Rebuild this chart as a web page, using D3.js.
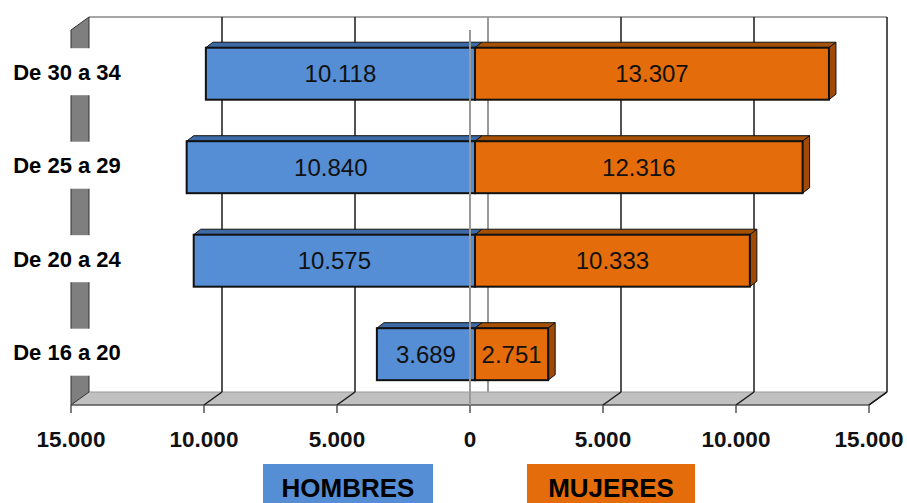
<!DOCTYPE html>
<html><head><meta charset="utf-8">
<script src="https://cdn.jsdelivr.net/npm/d3@7"></script>
<style>body{margin:0;background:#fff}svg{display:block}</style>
</head><body><svg id="c" width="907" height="503"></svg>
<script>
const categories = ["De 30 a 34", "De 25 a 29", "De 20 a 24", "De 16 a 20"];
const hombres = [10118, 10840, 10575, 3689];
const mujeres = [13307, 12316, 10333, 2751];
const tickValues = [-15000, -10000, -5000, 0, 5000, 10000, 15000];
const seriesNames = ["HOMBRES", "MUJERES"];

const fmt = v => d3.format(",")(Math.abs(v)).replace(/,/g, ".");
const svg = d3.select("#c");

// front plane
const x = d3.scaleLinear().domain([-15000, 15000]).range([71, 869]);
const floorY = 405, topY = 30;
const DX = 18, DY = -13;           // wall depth
const BX = 5, BY = -3.6;           // bars depth position
const bdx = 7, bdy = -5.5;         // bar thickness
const y = d3.scaleBand().domain(categories).range([26.4, 401.5]).paddingInner(0.444).paddingOuter(0.228);

const g = svg.append("g");
// back wall top border
g.append("line").attr("x1", x(-15000)+DX).attr("x2", x(15000)+DX).attr("y1", topY+DY).attr("y2", topY+DY)
  .attr("stroke", "#888").attr("stroke-width", 1.5);
// floor
g.append("path").attr("d", `M${x(-15000)},${floorY}L${x(15000)},${floorY}L${x(15000)+DX},${floorY+DY}L${x(-15000)+DX},${floorY+DY}Z`)
  .attr("fill", "#c0c0c0").attr("stroke", "none");
g.append("line").attr("x1", x(-15000)+DX).attr("x2", x(15000)+DX).attr("y1", floorY+DY).attr("y2", floorY+DY).attr("stroke", "#999").attr("stroke-width", 1);
g.append("line").attr("x1", x(-15000)).attr("x2", x(15000)).attr("y1", floorY).attr("y2", floorY).attr("stroke", "#555").attr("stroke-width", 1.5);
// back gridlines + floor diagonals
tickValues.filter(t => t !== 0 && t !== -15000).forEach(t => {
  g.append("line").attr("x1", x(t)+DX).attr("x2", x(t)+DX).attr("y1", topY+DY).attr("y2", floorY+DY)
    .attr("stroke", "#1a1a1a").attr("stroke-width", 1.5);
  g.append("line").attr("x1", x(t)+DX).attr("x2", x(t)).attr("y1", floorY+DY).attr("y2", floorY)
    .attr("stroke", "#1a1a1a").attr("stroke-width", 1.5);
});
// back zero line
g.append("line").attr("x1", x(0)+DX).attr("x2", x(0)+DX).attr("y1", topY+DY).attr("y2", floorY+DY)
  .attr("stroke", "#999").attr("stroke-width", 2);
// left wall
g.append("path").attr("d", `M${x(-15000)},${topY}L${x(-15000)+DX},${topY+DY}L${x(-15000)+DX},${floorY+DY}L${x(-15000)},${floorY}Z`)
  .attr("fill", "#7f7f7f").attr("stroke", "#333").attr("stroke-width", 1);

// bars
function bar(x0, x1, yt, h, front, top, side, withSide) {
  const bg = g.append("g");
  bg.append("path").attr("d", `M${x0},${yt}L${x1},${yt}L${x1+bdx},${yt+bdy}L${x0+bdx},${yt+bdy}Z`)
    .attr("fill", top).attr("stroke", "#111").attr("stroke-width", 1).attr("stroke-linejoin", "round");
  if (withSide) bg.append("path").attr("d", `M${x1},${yt}L${x1+bdx},${yt+bdy}L${x1+bdx},${yt+h+bdy}L${x1},${yt+h}Z`)
    .attr("fill", side).attr("stroke", "#111").attr("stroke-width", 1).attr("stroke-linejoin", "round");
  bg.append("rect").attr("x", x0).attr("y", yt).attr("width", x1 - x0).attr("height", h)
    .attr("fill", front).attr("stroke", "#111").attr("stroke-width", 2);
}
categories.forEach((c, i) => {
  const yt = y(c), h = y.bandwidth();
  bar(x(-hombres[i]) + BX, x(0) + BX, yt, h, "#558ed5", "#3c6aa6", "#3c6aa6", false);
  bar(x(0) + BX, x(mujeres[i]) + BX, yt, h, "#e46c0a", "#a65006", "#a04a05", true);
});
// front zero line (drawn over bars)
g.append("line").attr("x1", x(0)).attr("x2", x(0)).attr("y1", topY).attr("y2", floorY)
  .attr("stroke", "#999").attr("stroke-width", 2);

// value labels
categories.forEach((c, i) => {
  const cy = y(c) + y.bandwidth() / 2 + 8.5;
  g.append("text").attr("x", (x(-hombres[i]) + x(0)) / 2 + BX).attr("y", cy).attr("text-anchor", "middle")
    .attr("font-family", "Liberation Sans, Arial, sans-serif").attr("font-size", 24).attr("fill", "#111").text(fmt(hombres[i]));
  g.append("text").attr("x", (x(mujeres[i]) + x(0)) / 2 + BX).attr("y", cy).attr("text-anchor", "middle")
    .attr("font-family", "Liberation Sans, Arial, sans-serif").attr("font-size", 24).attr("fill", "#111").text(fmt(mujeres[i]));
});

// category labels with white boxes
categories.forEach(c => {
  const cy = y(c) + y.bandwidth() / 2 - 2;
  g.append("rect").attr("x", 64).attr("y", cy - 23.5).attr("width", 30).attr("height", 47).attr("fill", "#fff");
  g.append("text").attr("x", 67).attr("y", cy + 8).attr("text-anchor", "middle")
    .attr("font-family", "Liberation Sans, Arial, sans-serif").attr("font-weight", "bold").attr("font-size", 22)
    .attr("fill", "#000").text(c);
});

// x axis ticks & labels
tickValues.forEach(t => {
  g.append("line").attr("x1", x(t)).attr("x2", x(t)).attr("y1", floorY).attr("y2", floorY + 8)
    .attr("stroke", "#555").attr("stroke-width", 1.5);
  g.append("text").attr("x", x(t)).attr("y", 447).attr("text-anchor", "middle")
    .attr("font-family", "Liberation Sans, Arial, sans-serif").attr("font-weight", "bold").attr("font-size", 22.5)
    .attr("fill", "#111").text(fmt(t));
});
// right floor edge
g.append("line").attr("x1", x(15000)).attr("x2", x(15000)+DX).attr("y1", floorY).attr("y2", floorY+DY).attr("stroke", "#1a1a1a").attr("stroke-width", 1.5);

// legend
const legend = [{name: seriesNames[0], x: 263, w: 170, c: "#558ed5"}, {name: seriesNames[1], x: 527, w: 168, c: "#e46c0a"}];
legend.forEach(l => {
  g.append("rect").attr("x", l.x).attr("y", 464).attr("width", l.w).attr("height", 45).attr("fill", l.c);
  g.append("text").attr("x", l.x + l.w / 2).attr("y", 497).attr("text-anchor", "middle")
    .attr("font-family", "Liberation Sans, Arial, sans-serif").attr("font-weight", "bold").attr("font-size", 26)
    .attr("fill", "#000").text(l.name);
});
</script></body></html>
